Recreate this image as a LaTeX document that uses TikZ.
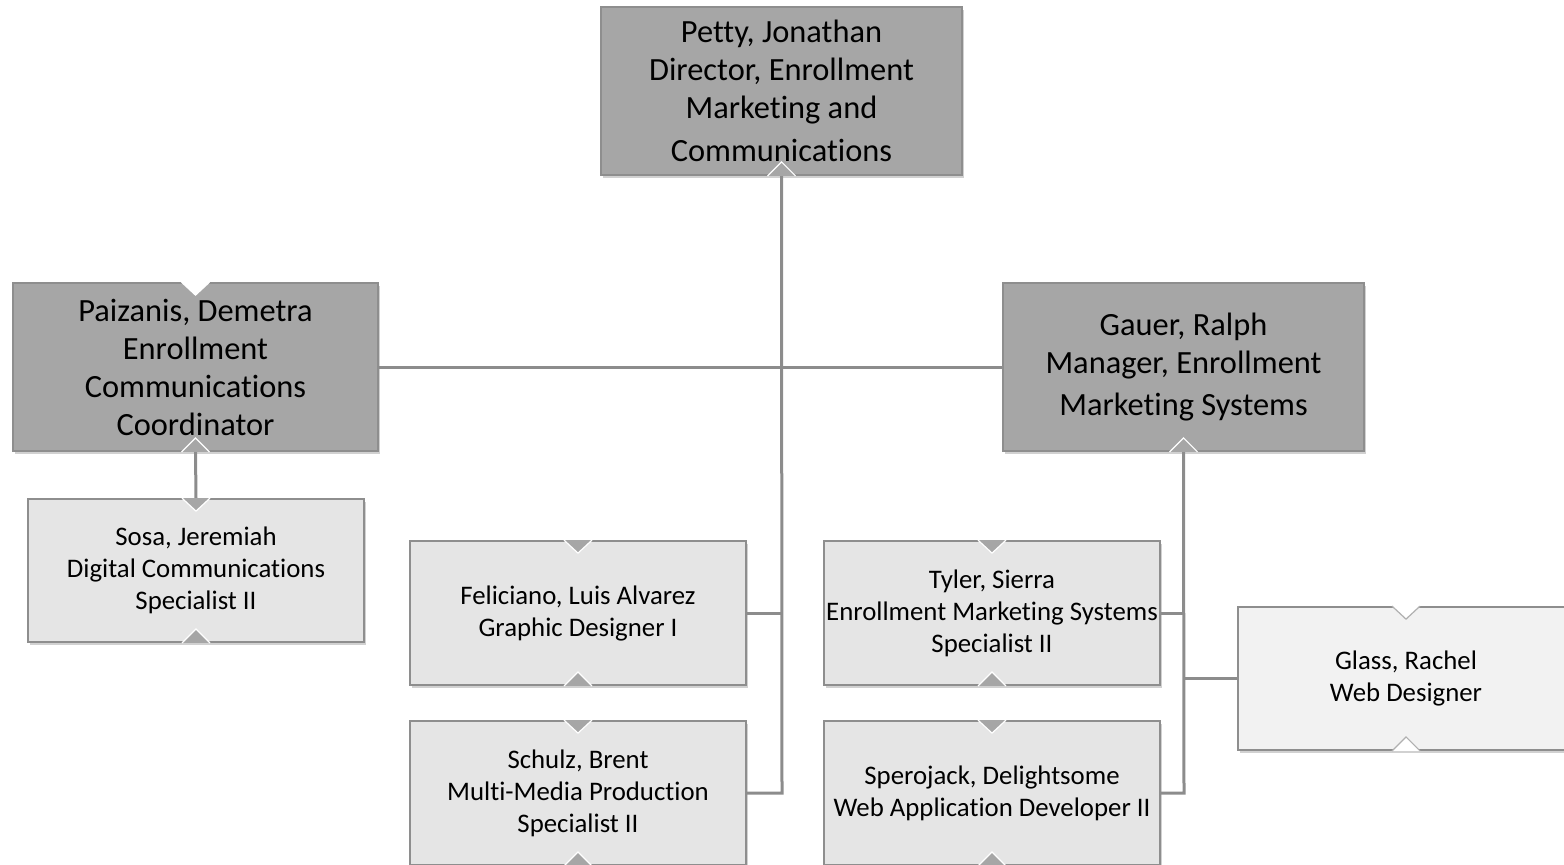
\documentclass[tikz,border=0pt]{standalone}
\usepackage{fontspec}
\setmainfont{Carlito}[Ligatures=CommonOff]
\usetikzlibrary{shadows}
\definecolor{darkfill}{HTML}{A6A6A6}
\definecolor{lightfill}{HTML}{E5E5E5}
\definecolor{palefill}{HTML}{F2F2F2}
\definecolor{edgegray}{HTML}{8E8E8E}
\definecolor{linegray}{HTML}{8C8C8C}
\begin{document}
\begin{tikzpicture}[x=0.5pt,y=-0.5pt,
  boxbase/.style={draw=edgegray, line width=0.9pt, align=center, inner sep=0pt,
     drop shadow={shadow xshift=0.8pt, shadow yshift=-1.6pt, opacity=0.18, fill=black}},
  darkbox/.style={boxbase, fill=darkfill, minimum width=180.5pt, minimum height=84pt,
     font=\fontsize{16.2}{19}\selectfont},
  lightbox/.style={boxbase, fill=lightfill, minimum width=168pt, minimum height=72pt,
     font=\fontsize{13.4}{16}\selectfont},
  palebox/.style={boxbase, fill=palefill, minimum width=168pt, minimum height=71.5pt,
     font=\fontsize{13.4}{16}\selectfont},
  conn/.style={draw=linegray, line width=1.5pt},
  notchd/.style={fill=darkfill, draw=white, line width=0.6pt},
  notchw/.style={fill=white, draw=white, line width=0.6pt},
  notchp/.style={fill=white, draw=edgegray!70, line width=0.6pt},
]
\useasboundingbox (0,0) rectangle (1564,864);

\coordinate (vbot) at (782,792);
\coordinate (gbot) at (1184,792);

\node[darkbox] (petty) at (781.5,91) {Petty, Jonathan\\Director, Enrollment\\Marketing and\\[2.5pt]Communications};
\node[darkbox, minimum width=182.5pt] (paiz) at (195.5,367) {Paizanis, Demetra\\Enrollment\\Communications\\Coordinator};
\node[darkbox] (gauer) at (1183.5,367) {Gauer, Ralph\\Manager, Enrollment\\[2pt]Marketing Systems};
\node[lightbox, minimum height=71.5pt] (sosa) at (196,570.5) {Sosa, Jeremiah\\Digital Communications\\Specialist II};
\node[lightbox] (feli) at (578,613) {Feliciano, Luis Alvarez\\Graphic Designer I};
\node[lightbox] (schulz) at (578,793) {Schulz, Brent\\Multi-Media Production\\Specialist II};
\node[lightbox] (tyler) at (992,613) {Tyler, Sierra\\Enrollment Marketing Systems\\Specialist II};
\node[lightbox] (spero) at (992,793) {Sperojack, Delightsome\\Web Application Developer II};
\node[palebox] (glass) at (1406,678.5) {Glass, Rachel\\Web Designer};

\draw[conn] (petty.south) -- (vbot) -- (schulz.east -| vbot) -- (schulz.east);
\draw[conn] (paiz.east) -- (gauer.west);
\draw[conn] (feli.east) -- (feli.east -| vbot);
\draw[conn] (paiz.south) -- (sosa.north);
\draw[conn] (gauer.south) -- (gbot) -- (spero.east -| gbot) -- (spero.east);
\draw[conn] (tyler.east) -- (tyler.east -| gbot);
\draw[conn] (glass.west) -- (glass.west -| gbot);

% bottom chevrons
\foreach \n in {petty,paiz,gauer,sosa,feli,schulz,tyler,spero}{
  \draw[notchd, shift={(\n.south)}] (-14,0) -- (0,-14) -- (14,0);
}
\draw[notchp, shift={(glass.south)}] (-14,0) -- (0,-14) -- (14,0);
% top notches
\draw[notchw, shift={(paiz.north)}] (-14,0) -- (0,13) -- (14,0);
\foreach \n in {sosa,feli,schulz,tyler,spero}{
  \draw[notchd, shift={(\n.north)}] (-14,0) -- (0,13) -- (14,0);
}
\draw[notchp, shift={(glass.north)}] (-14,0) -- (0,13) -- (14,0);
\end{tikzpicture}
\end{document}
